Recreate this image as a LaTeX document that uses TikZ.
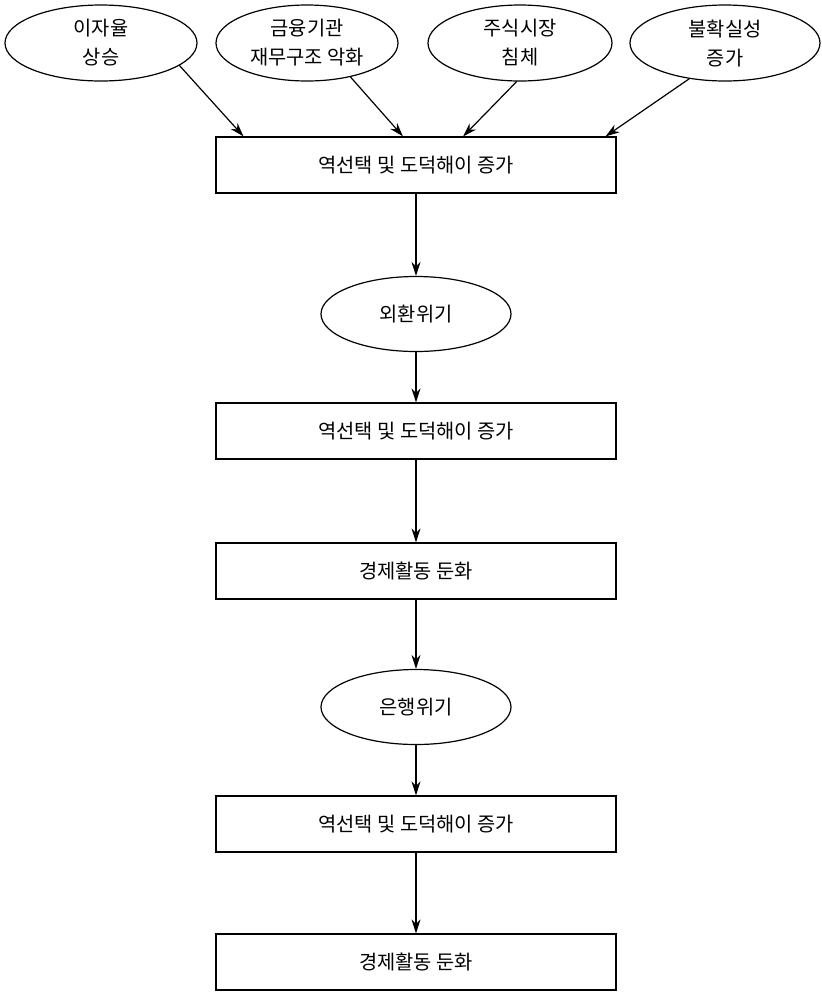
\documentclass[tikz,border=0pt]{standalone}
\usepackage{fontspec}
\newfontfamily\kr{Noto Sans CJK KR}
\usetikzlibrary{shapes.geometric,arrows.meta,calc}
\begin{document}
\begin{tikzpicture}[x=0.5pt,y=-0.5pt,
    font=\kr\fontsize{9.9}{14.5}\selectfont, line width=0.6pt,
    box/.style={draw, rectangle, minimum width=200pt, minimum height=28pt},
    oval/.style={draw, ellipse, inner sep=0pt, align=center, minimum width=95pt, minimum height=38pt},
    arr/.style={-{Stealth[length=7pt,width=4.5pt]}}]
            \useasboundingbox (0,0) rectangle (822,992);
            \node [oval, minimum width=96pt] (rate) at (101,43) {이자율\\상승};
            \node [oval, minimum width=91pt] (fin) at (307,43) {금융기관\\재무구조 악화};
            \node [oval, minimum width=92pt] (stock) at (520,43) {주식시장\\침체};
            \node [oval] (unc) at (725,43) {불확실성\\증가};
            \node [box] (sel1) at (416,165) {역선택 및 도덕해이 증가};
            \node [oval, minimum height=37.5pt] (fx) at (416,314) {외환위기};
            \node [box] (sel2) at (416,431) {역선택 및 도덕해이 증가};
            \node [box] (econ1) at (416,571) {경제활동 둔화};
            \node [oval, minimum height=37.5pt] (bank) at (416,707) {은행위기};
            \node [box] (sel3) at (416,824) {역선택 및 도덕해이 증가};
            \node [box] (econ2) at (416,962) {경제활동 둔화};
            \draw [arr] (rate.-16) -- ($(sel1.north west)!0.07!(sel1.north east)$);
            \draw [arr] (fin.-38) -- ($(sel1.north west)!0.4675!(sel1.north east)$);
            \draw [arr] (stock.-95) -- ($(sel1.north west)!0.6175!(sel1.north east)$);
            \draw [arr] (unc.-135) -- ($(sel1.north west)!0.9725!(sel1.north east)$);
            \draw [arr] (sel1) -- (fx);
            \draw [arr] (fx) -- (sel2);
            \draw [arr] (sel2) -- (econ1);
            \draw [arr] (econ1) -- (bank);
            \draw [arr] (bank) -- (sel3);
            \draw [arr] (sel3) -- (econ2);
        \end{tikzpicture}
\end{document}
